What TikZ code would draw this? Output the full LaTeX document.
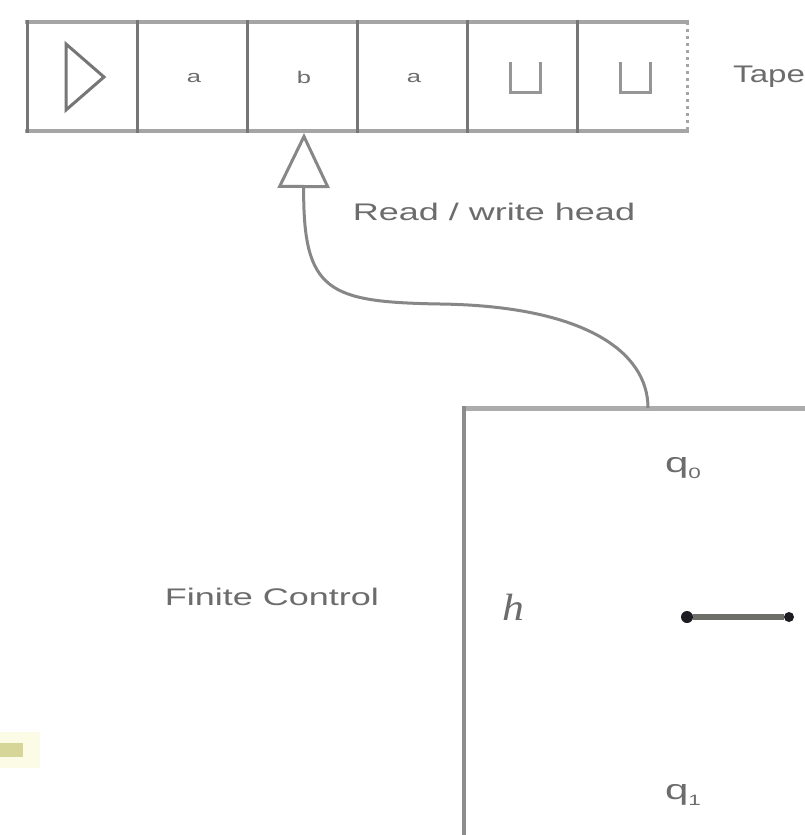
\documentclass[tikz,border=0pt]{standalone}
\usepackage{fontspec}
\setmainfont{Liberation Sans}
\newfontfamily\serifface{Liberation Serif}
\usepackage{graphicx}
\usetikzlibrary{arrows.meta}
\definecolor{tapegray}{RGB}{165,165,165}
\definecolor{divgray}{RGB}{118,118,118}
\definecolor{inkgray}{RGB}{108,108,108}
\definecolor{blankgray}{RGB}{150,150,150}
\definecolor{linkgray}{RGB}{135,135,135}
\definecolor{boxtop}{RGB}{172,172,172}
\definecolor{boxedge}{RGB}{140,140,140}
\definecolor{dotink}{RGB}{28,28,34}
\definecolor{barink}{RGB}{110,110,104}
\definecolor{hilite}{RGB}{214,214,152}
\definecolor{haze}{RGB}{252,252,230}
% stretched lettering used throughout the drawing
\newcommand\wide[1]{\scalebox{1.5}[1]{#1}}
\begin{document}
\begin{tikzpicture}[x=1pt,y=-1pt,
  tapeline/.style={draw=tapegray,line width=4pt},
  divider/.style={draw=divgray,line width=3pt},
  blank/.style={draw=blankgray,line width=3pt},
  cellsym/.style={inner sep=0pt,text=inkgray,font=\fontsize{17}{20}\selectfont},
  caption/.style={inner sep=0pt,text=inkgray,font=\fontsize{24}{28}\selectfont},
  statelbl/.style={inner sep=0pt,text=inkgray,font=\fontsize{28}{32}\selectfont},
  headlink/.style={draw=linkgray,line width=3pt,
    -{Triangle[open,length=55pt,width=52pt]}},
  dotnode/.style={circle,fill=dotink,inner sep=0pt,minimum size=12pt},
  bar/.style={draw=barink,line width=6pt}
]
\useasboundingbox (0,0) rectangle (804,835);
\fill[white] (0,0) rectangle (804,835);

% faint highlight at the left margin
\fill[haze] (0,732) rectangle (40,768);
\fill[hilite] (0,743) rectangle (23,757);

% the tape
\draw[tapeline] (25,22) -- (689,22);
\draw[tapeline] (25,131) -- (689,131);
\foreach \x in {27,137,247,357,467,577}
  \draw[divider] (\x,20) -- (\x,133);
\draw[draw=tapegray,line width=3pt,dash pattern=on 3pt off 4pt] (687,22) -- (687,131);

% cell contents
\draw[divider,line join=miter] (66,44) -- (104,77) -- (66,110) -- cycle;
\node[cellsym] (s2) at (194,78) {\wide{a}};
\node[cellsym] (s3) at (304,77) {\wide{b}};
\node[cellsym] (s4) at (414,78) {\wide{a}};
\draw[blank] (510,62) -- (510,92) -- (540,92) -- (540,62);
\draw[blank] (620,62) -- (620,92) -- (650,92) -- (650,62);
\node[caption,anchor=west] (tape) at (733,77) {\scalebox{1.38}[1]{Tape}};

% finite control box
\draw[draw=boxtop,line width=5pt] (462,408) -- (812,408);
\draw[draw=boxedge,line width=4pt] (464,406) -- (464,842);

% read / write head linked to the control
\coordinate (headtip) at (304,133);
\coordinate (link) at (648,408);
\draw[headlink] (link) .. controls (648,352) and (585,306) .. (440,304)
  .. controls (328,302) and (303,292) .. (headtip);
\node[caption] (rw) at (494,212) {\wide{Read / write head}};

% labels inside and beside the control
\node[caption] (fc) at (272,597) {\wide{Finite Control}};
\node[statelbl] (q0) at (683,468) {\wide{q\raisebox{-6pt}{\fontsize{15}{15}\selectfont 0}}};
\node[statelbl] (q1) at (683,795) {\wide{q\raisebox{-6pt}{\fontsize{15}{15}\selectfont 1}}};
\node[inner sep=0pt,text=inkgray] (h) at (513,607) {\scalebox{1.15}[1]{\serifface\itshape\fontsize{38}{42}\selectfont h}};

% dial needle
\node[dotnode] (d1) at (687,617) {};
\node[dotnode,minimum size=10pt] (d2) at (789,617) {};
\draw[bar] (d1) -- (d2);
\end{tikzpicture}
\end{document}
